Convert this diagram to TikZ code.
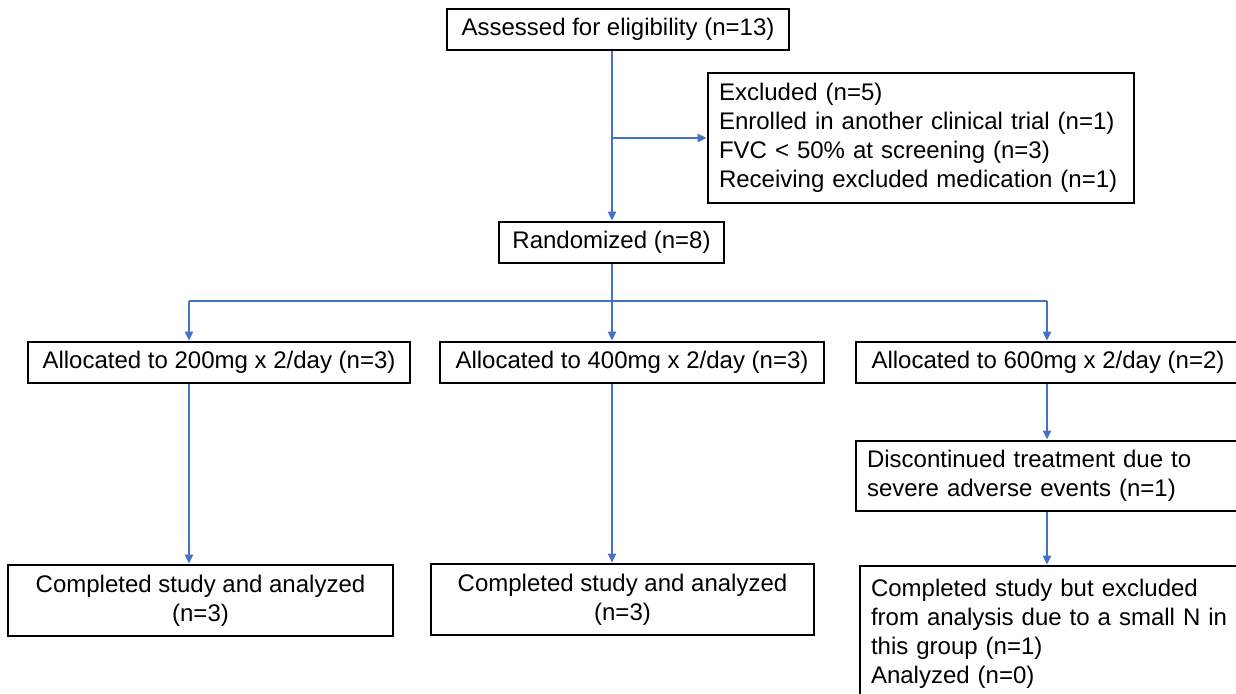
\documentclass[tikz,border=0pt]{standalone}
\usepackage{fontspec}
\setmainfont{Liberation Sans}
\usepackage{tikz}
\usetikzlibrary{
	arrows.meta, calc, shapes, positioning
}
\definecolor{flowblue}{HTML}{4472C4}
\tikzstyle{box} = [rectangle, draw=black, line width=1.4pt, fill=white, text=black, font=\fontsize{12}{14.5}\selectfont, minimum height=20.5pt, inner sep=0pt]
\tikzstyle{listbox} = [box, align=left, inner xsep=5.5pt]
\tikzstyle{line} = [draw=flowblue, line width=1pt]
\tikzstyle{arrow} = [line, -{Triangle[length=4.5pt,width=4pt]}]

\begin{document}
\begin{tikzpicture}[x=0.5pt, y=-0.5pt]
	\useasboundingbox (0,0) rectangle (1236,694);
	
	\node[box, minimum width=171pt] (assess) at (618,29.5) {Assessed for eligibility (n=13)};
	\node[listbox, minimum width=213pt, minimum height=65pt, text width=202pt] (excl) at (921,138)
		{Excluded (n=5)\\Enrolled in another clinical trial (n=1)\\FVC \char`\< {} 50\% at screening (n=3)\\Receiving excluded medication (n=1)};
	\node[box, minimum width=112.5pt] (rand) at (611.5,242.5) {Randomized (n=8)};
	
	\node[box, minimum width=191pt] (alloc1) at (219,362.5) {Allocated to 200mg x 2/day (n=3)};
	\node[box, minimum width=192pt] (alloc2) at (632,362.5) {Allocated to 400mg x 2/day (n=3)};
	\node[box, minimum width=192pt] (alloc3) at (1048,362.5) {Allocated to 600mg x 2/day (n=2)};
	
	\node[listbox, minimum width=192pt, minimum height=35pt, text width=181pt] (disc) at (1048,476)
		{Discontinued treatment due to\\severe adverse events (n=1)};
	
	\node[box, align=center, minimum width=192.5pt, minimum height=35.5pt] (comp1) at (200.5,600.5)
		{Completed study and analyzed\\(n=3)};
	\node[box, align=center, minimum width=191.5pt, minimum height=35.5pt] (comp2) at (622.5,599.5)
		{Completed study and analyzed\\(n=3)};
	\node[listbox, minimum width=190pt, minimum height=68pt, text width=179pt] (comp3) at (1050,634)
		{Completed study but excluded\\from analysis due to a small N in\\this group (n=1)\\Analyzed (n=0)};
	
	\coordinate (split) at (612,301);
	\coordinate (lft) at (189,301);
	\coordinate (rgt) at (1047,301);
	
	%arrow
	\draw[arrow] (split |- assess.south) -- (split |- rand.north);
	\draw[arrow] (split |- excl.west) -- (excl.west);
	\draw[line] (split |- rand.south) -- (split);
	\draw[line] (lft) -- (rgt);
	\draw[arrow] (lft) -- (lft |- alloc1.north);
	\draw[arrow] (split) -- (split |- alloc2.north);
	\draw[arrow] (rgt) -- (rgt |- alloc3.north);
	\draw[arrow] (lft |- alloc1.south) -- (lft |- comp1.north);
	\draw[arrow] (split |- alloc2.south) -- (split |- comp2.north);
	\draw[arrow] (rgt |- alloc3.south) -- (rgt |- disc.north);
	\draw[arrow] (rgt |- disc.south) -- (rgt |- comp3.north);
\end{tikzpicture}
\end{document}
